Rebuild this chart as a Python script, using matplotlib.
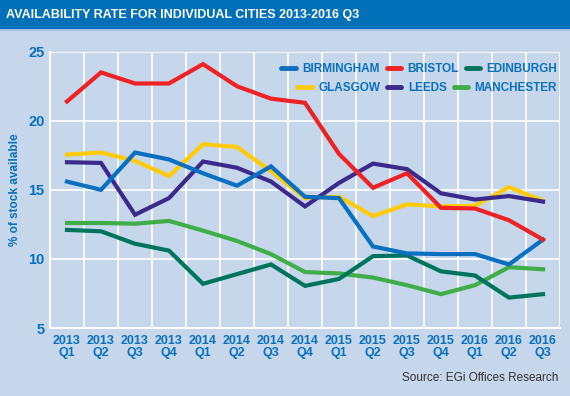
#!/usr/bin/env python3
# Availability rate chart, individual cities 2013-2016 Q3
import matplotlib
matplotlib.use('Agg')
import matplotlib.pyplot as plt
from matplotlib.patches import Rectangle
from matplotlib.lines import Line2D

quarters = ["2013\nQ1", "2013\nQ2", "2013\nQ3", "2013\nQ4",
            "2014\nQ1", "2014\nQ2", "2014\nQ3", "2014\nQ4",
            "2015\nQ1", "2015\nQ2", "2015\nQ3", "2015\nQ4",
            "2016\nQ1", "2016\nQ2", "2016\nQ3"]

birmingham = [15.6, 15.0, 17.7, 17.2, 16.2, 15.3, 16.7, 14.5, 14.4, 10.9, 10.4, 10.35, 10.35, 9.6, 11.4]
bristol = [21.4, 23.5, 22.7, 22.7, 24.1, 22.5, 21.6, 21.3, 17.6, 15.15, 16.2, 13.7, 13.65, 12.8, 11.4]
edinburgh = [12.1, 12.0, 11.1, 10.6, 8.2, 8.9, 9.6, 8.05, 8.55, 10.2, 10.25, 9.1, 8.8, 7.2, 7.45]
glasgow = [17.55, 17.7, 17.1, 16.0, 18.3, 18.1, 16.35, 14.4, 14.5, 13.1, 13.95, 13.8, 13.85, 15.2, 14.2]
leeds = [17.0, 16.95, 13.2, 14.4, 17.05, 16.6, 15.6, 13.8, 15.5, 16.9, 16.5, 14.75, 14.3, 14.55, 14.15]
manchester = [12.6, 12.6, 12.55, 12.75, 12.05, 11.3, 10.35, 9.05, 8.95, 8.65, 8.1, 7.45, 8.1, 9.4, 9.25]

series = [
    ("BIRMINGHAM", birmingham, "#0a6fc0"),
    ("BRISTOL", bristol, "#ee2124"),
    ("EDINBURGH", edinburgh, "#00735f"),
    ("GLASGOW", glasgow, "#ffcb05"),
    ("LEEDS", leeds, "#3b2a8c"),
    ("MANCHESTER", manchester, "#3fae49"),
]
# drawing order (back to front) roughly as in the original
draw_order = ["MANCHESTER", "EDINBURGH", "GLASGOW", "LEEDS", "BIRMINGHAM", "BRISTOL"]

BG = "#c6d6eb"
BLUE = "#0a6fc0"
FONT = ['Liberation Sans', 'DejaVu Sans']

fig = plt.figure(figsize=(5.7, 3.96), dpi=100, facecolor=BG)

# title bar
fig.patches.append(Rectangle((0, 1 - 29 / 396), 1, 29 / 396, transform=fig.transFigure,
                             facecolor="#0070b8", edgecolor="none", zorder=0))
fig.patches.append(Rectangle((0, 1 - 31 / 396), 1, 2 / 396, transform=fig.transFigure,
                             facecolor="#a9c4e4", edgecolor="none", zorder=0))
fig.text(0.011, 1 - 15 / 396, "AVAILABILITY RATE FOR INDIVIDUAL CITIES 2013-2016 Q3",
         color="white", fontsize=9, fontweight="bold", family=FONT, va="center")

ax = fig.add_axes([50 / 570, 1 - 328 / 396, 510 / 570, (328 - 51.7) / 396])
ax.set_facecolor(BG)

x = list(range(len(quarters)))
lookup = {name: (vals, col) for name, vals, col in series}
for z, name in enumerate(draw_order):
    vals, col = lookup[name]
    ax.plot(x, vals, color=col, lw=3.0, solid_joinstyle="miter", zorder=3 + z)

ax.set_xlim(-0.5, len(quarters) - 0.5)
ax.set_ylim(5, 25)
ax.set_yticks([5, 10, 15, 20, 25])
ax.set_xticks(x)
ax.set_xticklabels(quarters)
ax.set_xticks([i + 0.5 for i in range(-1, len(quarters))], minor=True)
ax.grid(which="minor", axis="x", color="white", lw=1.2)
ax.grid(which="major", axis="y", color="white", lw=1.2)
ax.tick_params(which="both", length=0)
ax.tick_params(axis="x", pad=5, labelsize=9, labelcolor=BLUE)
ax.tick_params(axis="y", pad=4, labelsize=10.5, labelcolor=BLUE)
for lab in ax.get_xticklabels() + ax.get_yticklabels():
    lab.set_family(FONT)
    lab.set_fontweight("bold")
    lab.set_linespacing(1.0)
for side in ("top", "right"):
    ax.spines[side].set_visible(False)
for side in ("left", "bottom"):
    ax.spines[side].set_color("white")
    ax.spines[side].set_linewidth(1.5)

ax.set_ylabel("% of stock available", color=BLUE, fontsize=8.5, fontweight="bold",
              family=FONT, labelpad=5)

# legend: two right-aligned rows
def legend_row(names, y):
    handles = [Line2D([], [], color=lookup[n][1], lw=3.5, solid_capstyle="round") for n in names]
    leg = fig.legend(handles, names, ncol=3, loc="center right",
                     bbox_to_anchor=(557 / 570, 1 - y / 396), frameon=False,
                     handlelength=1.2, handletextpad=0.55, columnspacing=0.6,
                     borderpad=0, borderaxespad=0,
                     prop={"family": FONT, "weight": "bold", "size": 8.5})
    for t in leg.get_texts():
        t.set_color(BLUE)
    return leg

legend_row(["BIRMINGHAM", "BRISTOL", "EDINBURGH"], 69)
legend_row(["GLASGOW", "LEEDS", "MANCHESTER"], 88)

fig.text(558 / 570, 1 - 378 / 396, "Source: EGi Offices Research", color="#333333",
         fontsize=8.5, family=FONT, ha="right", va="center")

fig.savefig("out.png", dpi=100, facecolor=BG)
